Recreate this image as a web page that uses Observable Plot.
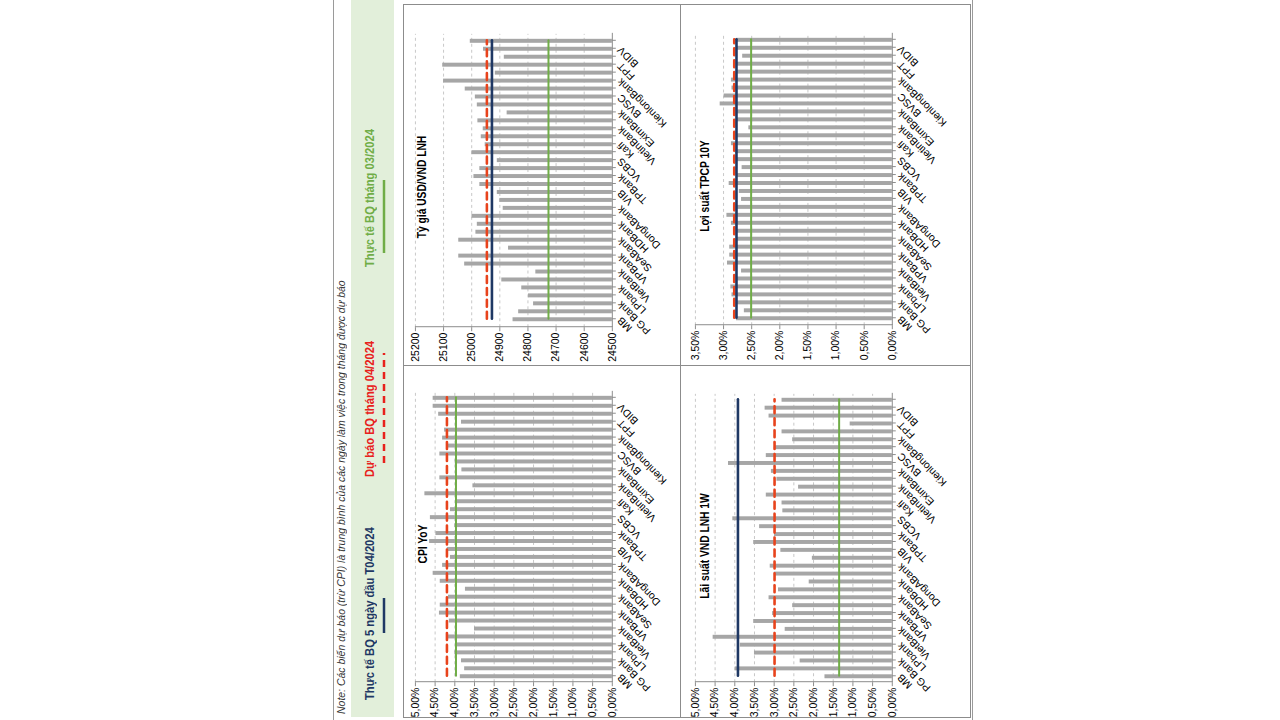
<!DOCTYPE html>
<html>
<head>
<meta charset="utf-8">
<script src="https://cdn.jsdelivr.net/npm/d3@7"></script>
<script src="https://cdn.jsdelivr.net/npm/@observablehq/plot@0.6"></script>
<style>
  body { margin: 0; background: #fff; width: 1280px; height: 720px; overflow: hidden; position: relative; }
  #slide { position: absolute; left: 293px; top: 40px; width: 720px; height: 640px;
           transform: rotate(-90deg); transform-origin: 50% 50%; background: #fff;
           border-top: 1px solid #9a9a9a; border-bottom: 1px solid #9a9a9a; box-sizing: border-box;
           font-family: "Liberation Sans", Arial, sans-serif; }
  .band { position: absolute; left: 3px; top: 17px; width: 717px; height: 43px; background: #e2efda; }
  .note { position: absolute; left: 6px; top: 1px; font-size: 11.5px; font-style: italic; color: #333;
          white-space: nowrap; transform: scaleX(0.91); transform-origin: 0 50%; }
  .leg { position: absolute; top: 28px; font-size: 13px; font-weight: bold; white-space: nowrap;
         transform: scaleX(0.86); transform-origin: 0 50%; }
  .panel { position: absolute; border: 1px solid #8c8c8c; box-sizing: border-box; }
  .panel svg { position: absolute; left: 0; top: 0; overflow: visible; }
  .ttl { position: absolute; font-size: 12.5px; font-weight: bold; color: #000; white-space: nowrap;
         transform: translate(-50%, -50%) scaleX(0.82); }
</style>
</head>
<body>
<div id="slide">
  <div class="band"></div>
  <div class="note">Note: Các biến dự báo (trừ CPI) là trung bình của các ngày làm việc trong tháng được dự báo</div>
  <div class="leg" style="left:20px;color:#1f3864">Thực tế BQ 5 ngày đầu T04/2024</div>
  <div class="leg" style="left:243px;color:#e8211c">Dự báo BQ tháng 04/2024</div>
  <div class="leg" style="left:453px;color:#70ad47">Thực tế BQ tháng 03/2024</div>
  <svg style="position:absolute;left:0;top:44px" width="720" height="12">
    <line x1="87" x2="122" y1="6" y2="6" stroke="#1f3864" stroke-width="2.5"/>
    <line x1="257" x2="367" y1="6" y2="6" stroke="#e8211c" stroke-width="2.5" stroke-dasharray="7,5"/>
    <line x1="467" x2="540" y1="6" y2="6" stroke="#70ad47" stroke-width="2.5"/>
  </svg>
  <div id="p-cpi" class="panel" style="left:2px;top:69px;width:353px;height:278px"></div>
  <div id="p-usd" class="panel" style="left:354px;top:69px;width:362px;height:278px"></div>
  <div id="p-lnh" class="panel" style="left:2px;top:346px;width:353px;height:291px"></div>
  <div id="p-tpcp" class="panel" style="left:354px;top:346px;width:362px;height:291px"></div>
</div>
<script>
// Category labels shown on the axis (every second bank is labelled)
const bankLabels = ["MB", "PG Bank", "LPbank", "VietBank", "VPBank", "SeABank", "HDBank", "DongABank", "VIB",
  "TPBank", "VCBS", "Kafi", "VietinBank", "EximBank", "BVSC", "KienlongBank", "FPT", "BIDV"];
const bankCount = 36;

// Forecasts per bank (left to right)
const cpiValues = [3.86,3.75,3.83,4.00,3.96,4.19,3.50,4.14,4.39,4.37,4.16,3.73,4.37,4.55,4.31,4.11,4.19,4.64,
  4.48,4.00,4.62,4.11,3.94,4.76,3.54,4.38,3.82,3.99,4.38,4.19,4.31,4.26,3.83,4.41,4.55,4.55];
const usdValues = [24853,24833,24780,24798,24822,24893,24772,25025,25046,24869,25046,24985,24980,24999,24888,24900,
  24909,24971,24992,24971,24909,24999,24952,24966,24959,24978,24874,24980,24987,25023,25100,24916,25103,24884,24958,25005];
const lnhValues = [1.71,3.99,2.34,3.50,3.86,4.55,2.72,3.52,3.04,2.53,3.13,2.89,2.11,2.99,3.10,2.03,2.83,3.52,
  2.99,3.37,4.05,2.78,2.80,3.20,2.38,2.93,3.07,4.16,3.20,2.99,2.53,2.80,1.07,3.13,3.23,2.80];
const tpcpValues = [2.77,2.63,2.76,2.85,2.87,2.77,2.68,2.93,2.89,2.89,2.77,2.77,2.86,2.94,2.77,2.68,2.72,2.90,
  2.77,2.67,2.77,2.79,2.86,2.77,2.55,2.76,2.77,3.06,2.99,2.85,2.86,2.77,2.77,2.66,2.77,2.77];

// Reference levels: [actual first 5 days T04, forecast avg T04, actual avg T03]
const cpiRefs  = [null, 4.20, 3.97];
const usdRefs  = [24928, 24946, 24727];
const lnhRefs  = [3.92, 2.99, 1.35];
const tpcpRefs = [2.77, 2.81, 2.51];

const pctTicks = [0, 0.5, 1, 1.5, 2, 2.5, 3, 3.5, 4, 4.5, 5];
const tpcpTicks = [0, 0.5, 1, 1.5, 2, 2.5, 3, 3.5];
const usdTicks = [24500, 24600, 24700, 24800, 24900, 25000, 25100, 25200];

const refColors = ["#1f3864", "#e8431c", "#70ad47"];
const pctFmt = d => d.toFixed(2).replace(".", ",") + "%";
const numFmt = d => String(d);

function panel(el, cfg) {
  const {values, ticks, fmt, refs, width, height, mL, mR, mT, mB, title, tx, ty} = cfg;
  const base = ticks[0];
  const data = values.map((v, i) => ({i, v}));
  const idx = d3.range(bankCount);
  const refMarks = [];
  // green (actual T03), then red dashed forecast, then blue actual on top
  [2, 1, 0].forEach(k => {
    if (refs[k] == null) return;
    refMarks.push(Plot.lineY(idx, {x: d => d, y: () => refs[k], stroke: refColors[k],
      strokeWidth: k === 2 ? 2 : 2.6, strokeDasharray: k === 1 ? "7,5" : null}));
  });
  const chart = Plot.plot({
    width, height, marginLeft: mL, marginRight: mR, marginTop: mT, marginBottom: mB,
    style: {fontFamily: '"Liberation Sans", Arial, sans-serif', fontSize: "10px", color: "#000", background: "transparent"},
    x: {domain: idx, padding: 0.5, label: null, axis: null},
    y: {domain: [ticks[0], ticks[ticks.length - 1]], label: null, axis: null},
    marks: [
      Plot.gridY(ticks.slice(1), {stroke: "#c8c8c8", strokeOpacity: 1, strokeDasharray: "3,3"}),
      Plot.barY(data, {x: "i", y1: base, y2: "v", fill: "#a6a6a6"}),
      ...refMarks,
      Plot.axisY({ticks, tickFormat: fmt, tickSize: 4, tickPadding: 2, stroke: "#8c8c8c", fontSize: 10.5, label: null}),
      Plot.axisX({tickFormat: i => i % 2 === 0 ? bankLabels[i / 2] : "", tickRotate: -45, tickSize: 4,
        tickPadding: 3, stroke: "#8c8c8c", fontSize: 10.5, label: null}),
      Plot.frame({anchor: "left", stroke: "#8c8c8c"}),
      Plot.frame({anchor: "bottom", stroke: "#8c8c8c"})
    ]
  });
  el.appendChild(chart);
  const t = document.createElement("div");
  t.className = "ttl";
  t.style.left = tx + "px";
  t.style.top = ty + "px";
  t.textContent = title;
  el.appendChild(t);
}

panel(document.getElementById("p-cpi"), {values: cpiValues, ticks: pctTicks, fmt: pctFmt, refs: cpiRefs,
  width: 353, height: 278, mL: 35, mR: 26, mT: 11, mB: 69, title: "CPI YoY", tx: 173, ty: 19});
panel(document.getElementById("p-usd"), {values: usdValues, ticks: usdTicks, fmt: numFmt, refs: usdRefs,
  width: 362, height: 278, mL: 38, mR: 29, mT: 11, mB: 69, title: "Tỷ giá USD/VND LNH", tx: 178, ty: 18});
panel(document.getElementById("p-lnh"), {values: lnhValues, ticks: pctTicks, fmt: pctFmt, refs: lnhRefs,
  width: 353, height: 291, mL: 35, mR: 28, mT: 14, mB: 79, title: "Lãi suất VND LNH 1W", tx: 171, ty: 24});
panel(document.getElementById("p-tpcp"), {values: tpcpValues, ticks: tpcpTicks, fmt: pctFmt, refs: tpcpRefs,
  width: 362, height: 291, mL: 40, mR: 29, mT: 14, mB: 79, title: "Lợi suất TPCP 10Y", tx: 179, ty: 24});
</script>
</body>
</html>
